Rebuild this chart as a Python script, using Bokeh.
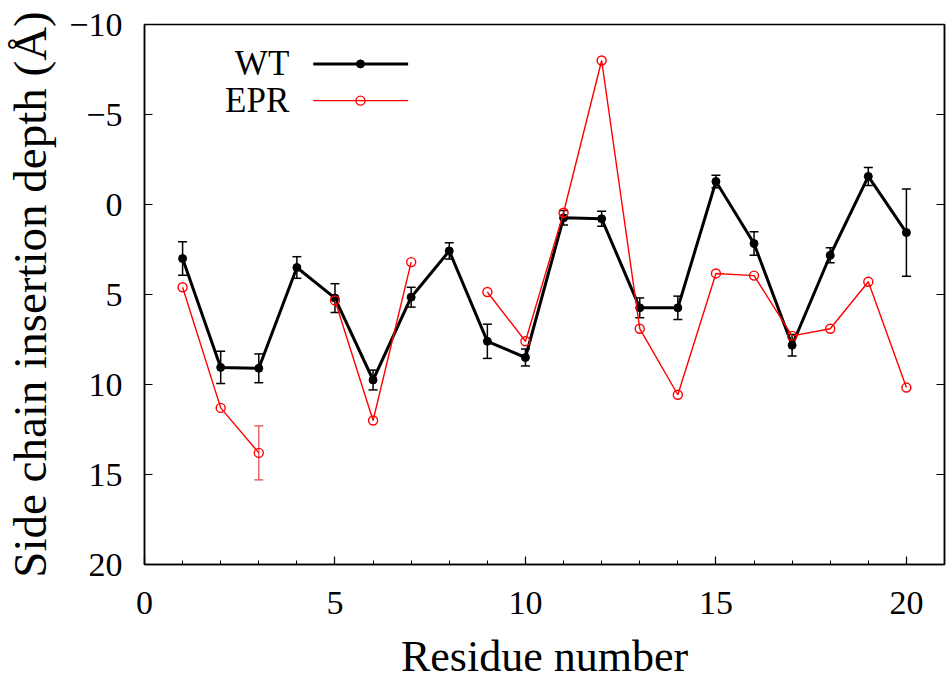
import math
from bokeh.plotting import figure
from bokeh.models import (Range1d, LinearAxis, SingleIntervalTicker, CustomJSTickFormatter,
                          Whisker, TeeHead, ColumnDataSource)
from bokeh.core.properties import value
from bokeh.embed import file_html
from bokeh.resources import INLINE

# ---- data ----
residues = list(range(1, 21))
wt_depth = [3.0, 9.05, 9.1, 3.5, 5.2, 9.75, 5.15, 2.58, 7.6, 8.5,
            0.74, 0.79, 5.74, 5.74, -1.28, 2.17, 7.82, 2.82, -1.56, 1.56]
wt_err = [0.93, 0.9, 0.8, 0.6, 0.8, 0.55, 0.55, 0.45, 0.95, 0.47,
          0.4, 0.42, 0.55, 0.65, 0.35, 0.65, 0.6, 0.42, 0.5, 2.42]
nan = float("nan")
epr_depth = [4.6, 11.3, 13.8, nan, 5.33, 12.0, 3.2, nan, 4.86, 7.6,
             0.46, -8.0, 6.9, 10.57, 3.83, 3.95, 7.3, 6.9, 4.29, 10.17]
epr_err = [0, 0, 1.5, 0, 0, 0, 0, 0, 0, 0,
           0, 0, 0, 0, 0, 0, 0, 0, 0, 0]
series_names = ["WT", "EPR"]
x_label = "Residue number"
y_label = "Side chain insertion depth (\u00c5)"

FONT = "Liberation Serif"

p = figure(output_backend="svg", toolbar_location=None,
           frame_width=800, frame_height=540,
           min_border_left=144, min_border_right=2, min_border_top=24, min_border_bottom=115,
           x_range=Range1d(0, 21), y_range=Range1d(20, -10),
           x_axis_label=x_label, y_axis_label=y_label)
p.grid.visible = False
p.background_fill_color = "white"
p.border_fill_color = "white"
p.outline_line_color = "black"
p.outline_line_width = 1.5

minus_fmt = CustomJSTickFormatter(code="return tick < 0 ? '\\u2212' + Math.abs(tick) : String(tick);")

# x axis
xa = p.xaxis[0]
xa.ticker = SingleIntervalTicker(interval=5, num_minor_ticks=5)
xa.major_tick_in = 8
xa.major_tick_out = 0
xa.minor_tick_in = 4
xa.minor_tick_out = 0
xa.major_label_standoff = 27
xa.axis_label_standoff = 15
# y axis
ya = p.yaxis[0]
ya.ticker = SingleIntervalTicker(interval=5, num_minor_ticks=0)
ya.formatter = minus_fmt
ya.major_tick_in = 8
ya.major_tick_out = 0
ya.minor_tick_in = 0
ya.minor_tick_out = 0
ya.major_label_standoff = 22
ya.axis_label_standoff = 10
for ax in (xa, ya):
    ax.axis_line_color = "black"
    ax.axis_line_width = 1.5
    ax.major_tick_line_color = "black"
    ax.major_tick_line_width = 1.2
    ax.minor_tick_line_color = "black"
    ax.minor_tick_line_width = 1.0
    ax.major_label_text_font = FONT
    ax.major_label_text_font_size = "34px"
    ax.major_label_text_color = "black"
    ax.axis_label_text_font = FONT
    ax.axis_label_text_font_style = "normal"
    ax.axis_label_text_color = "black"
xa.axis_label_text_font_size = "44px"
ya.axis_label_text_font_size = "47px"

# mirrored right ticks (no labels)
ra = LinearAxis(ticker=SingleIntervalTicker(interval=5, num_minor_ticks=0),
                formatter=CustomJSTickFormatter(code="return '';"),
                major_label_standoff=0,
                major_tick_in=8, major_tick_out=0, minor_tick_in=0, minor_tick_out=0,
                axis_line_color="black", axis_line_width=1.5,
                major_tick_line_color="black", major_tick_line_width=1.2)
p.add_layout(ra, "right")

# WT series
wt_src = ColumnDataSource(dict(
    x=residues, y=wt_depth,
    lo=[v - e for v, e in zip(wt_depth, wt_err)],
    hi=[v + e for v, e in zip(wt_depth, wt_err)]))
p.add_layout(Whisker(source=wt_src, base="x", lower="lo", upper="hi",
                     line_color="black", line_width=1.5,
                     upper_head=TeeHead(size=9, line_color="black", line_width=1.5),
                     lower_head=TeeHead(size=9, line_color="black", line_width=1.5)))
p.line("x", "y", source=wt_src, line_color="black", line_width=3)
p.scatter("x", "y", source=wt_src, size=8, marker="circle",
          fill_color="black", line_color="black")

# EPR series
epr_src = ColumnDataSource(dict(x=residues, y=epr_depth))
ex = [x for x, e in zip(residues, epr_err) if e > 0]
ey = [v for v, e in zip(epr_depth, epr_err) if e > 0]
ee = [e for e in epr_err if e > 0]
epr_err_src = ColumnDataSource(dict(x=ex, lo=[v - e for v, e in zip(ey, ee)],
                                    hi=[v + e for v, e in zip(ey, ee)]))
p.add_layout(Whisker(source=epr_err_src, base="x", lower="lo", upper="hi",
                     line_color="#e05050", line_width=1.3,
                     upper_head=TeeHead(size=9, line_color="#e05050", line_width=1.3),
                     lower_head=TeeHead(size=9, line_color="#e05050", line_width=1.3)))
p.line("x", "y", source=epr_src, line_color="red", line_width=1.4)
p.scatter("x", "y", source=epr_src, size=9, marker="circle",
          fill_color=None, line_color="red", line_width=1.4)

# manual legend (label to the left of sample)
leg_x0, leg_x1, leg_xm = 4.43, 6.92, 5.67
leg_y = [-7.81, -5.77]
leg_text_x = 3.8
p.segment(x0=[leg_x0] * 2, x1=[leg_x1] * 2, y0=leg_y, y1=leg_y,
          line_color=["black", "red"], line_width=[3, 1.4])
p.scatter(x=[leg_xm], y=[leg_y[0]], size=8, marker="circle", fill_color="black", line_color="black")
p.scatter(x=[leg_xm], y=[leg_y[1]], size=9, marker="circle", fill_color=None,
          line_color="red", line_width=1.4)
p.text(x=[leg_text_x] * 2, y=leg_y, text=series_names, text_align="right",
       text_baseline="middle", text_font=value(FONT), text_font_size="35px",
       text_color="black")

open("out.html", "w").write(file_html(p, INLINE))
